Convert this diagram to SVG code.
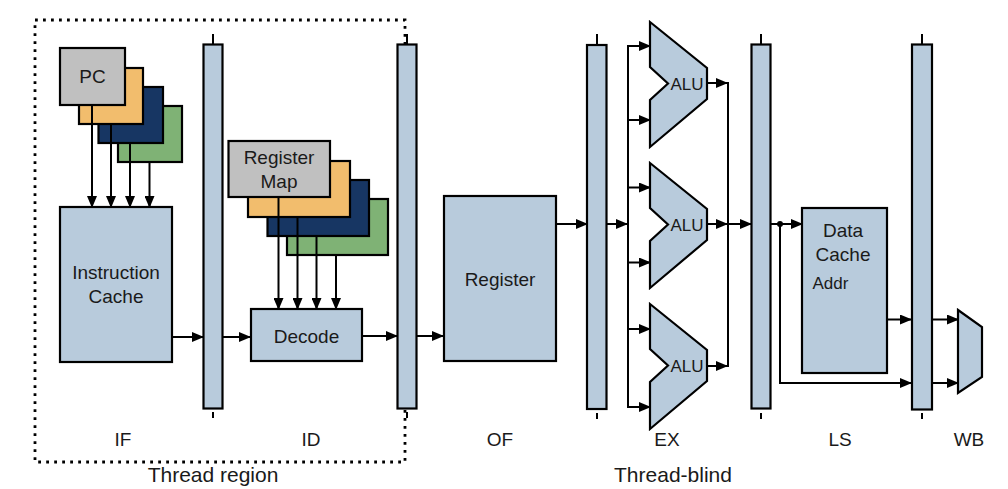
<svg xmlns="http://www.w3.org/2000/svg" width="1008" height="489" viewBox="0 0 1008 489">
<style>
.box{fill:#b8cbdc;stroke:#000;stroke-width:2.2}
.gray{fill:#c0c0c0;stroke:#000;stroke-width:2.2}
.org{fill:#f2bd6d;stroke:#000;stroke-width:2.2}
.dkb{fill:#173663;stroke:#000;stroke-width:2.2}
.grn{fill:#7fb275;stroke:#000;stroke-width:2.2}
.ln{fill:none;stroke:#000;stroke-width:2}
.ar{fill:none;stroke:#000;stroke-width:2;marker-end:url(#ah)}
.tk{stroke:#000;stroke-width:2}
text{font-family:"Liberation Sans",Arial,sans-serif;fill:#1a1a1a;text-anchor:middle}
.t18{font-size:19px}
.t16{font-size:17px}
.t20{font-size:21px}
</style>
<defs>
<marker id="ah" markerUnits="userSpaceOnUse" markerWidth="12" markerHeight="10" refX="11" refY="5" orient="auto">
<path d="M0,0 L12,5 L0,10 z" fill="#000"/>
</marker>
</defs>
<rect width="1008" height="489" fill="#fff"/>

<g id="thread-region">
<rect x="35" y="20" width="370" height="442" fill="none" stroke="#000" stroke-width="2.8" stroke-dasharray="2.8 5.2"/>
</g>

<g id="pc-stack">
<rect class="grn" x="118" y="106" width="64" height="56"/>
<rect class="dkb" x="98.5" y="87" width="64.5" height="56"/>
<rect class="org" x="79" y="68" width="64" height="56"/>
<rect class="gray" x="60" y="48" width="65" height="57"/>
<text class="t18" x="92.5" y="83">PC</text>
</g>

<g id="instruction-cache">
<rect class="box" x="60" y="207" width="112" height="155"/>
<text class="t18" x="116" y="279">Instruction</text>
<text class="t18" x="116" y="303">Cache</text>
</g>

<g id="register-map-stack">
<rect class="grn" x="287" y="199" width="101" height="56"/>
<rect class="dkb" x="267.5" y="180" width="101.5" height="56"/>
<rect class="org" x="248" y="161" width="102" height="56"/>
<rect class="gray" x="228.5" y="141" width="101.5" height="56"/>
<text class="t18" x="279" y="164">Register</text>
<text class="t18" x="279" y="187.5">Map</text>
</g>

<g id="decode">
<rect class="box" x="251" y="309" width="111" height="52"/>
<text class="t18" x="306.5" y="343">Decode</text>
</g>

<g id="register">
<rect class="box" x="444" y="196" width="112" height="165"/>
<text class="t18" x="500" y="286">Register</text>
</g>

<g id="alu1">
<polygon class="box" points="650,22 707,68 707,99 650,147 650,100 668,83.5 650,67"/>
<text class="t16" x="687" y="89.5">ALU</text>
</g>
<g id="alu2">
<polygon class="box" points="650,163 707,209 707,240 650,288 650,241 668,224.5 650,208"/>
<text class="t16" x="687" y="230.5">ALU</text>
</g>
<g id="alu3">
<polygon class="box" points="650,304 707,350 707,381 650,429 650,382 668,365.5 650,349"/>
<text class="t16" x="687" y="371.5">ALU</text>
</g>

<g id="data-cache">
<rect class="box" x="802" y="208" width="85" height="165"/>
<text class="t18" x="843" y="237">Data</text>
<text class="t18" x="843" y="261">Cache</text>
<text class="t16" x="812.5" y="289" style="text-anchor:start">Addr</text>
</g>

<g id="wb-mux">
<polygon class="box" points="958,310 982,327 982,377 958,393"/>
</g>

<g id="latch-if-id">
<line class="tk" x1="213" y1="34" x2="213" y2="44"/>
<rect class="box" x="203.5" y="44.5" width="19" height="364"/>
<line class="tk" x1="213" y1="412" x2="213" y2="418"/>
</g>
<g id="latch-id-of">
<line class="tk" x1="407" y1="34" x2="407" y2="44"/>
<rect class="box" x="397.5" y="44.5" width="19" height="364"/>
<line class="tk" x1="407" y1="412" x2="407" y2="418"/>
</g>
<g id="latch-of-ex">
<line class="tk" x1="597" y1="34" x2="597" y2="44"/>
<rect class="box" x="587" y="45" width="19.5" height="364"/>
<line class="tk" x1="597" y1="413" x2="597" y2="419"/>
</g>
<g id="latch-ex-ls">
<line class="tk" x1="761" y1="34" x2="761" y2="44"/>
<rect class="box" x="751.5" y="44.5" width="19" height="364"/>
<line class="tk" x1="761" y1="413" x2="761" y2="419"/>
</g>
<g id="latch-ls-wb">
<line class="tk" x1="922" y1="34" x2="922" y2="44"/>
<rect class="box" x="912" y="44.5" width="20" height="365"/>
<line class="tk" x1="922" y1="413" x2="922" y2="419"/>
</g>

<g id="connectors">
<line class="ar" x1="92" y1="105" x2="92" y2="207"/>
<line class="ar" x1="111" y1="124" x2="111" y2="207"/>
<line class="ar" x1="130" y1="143" x2="130" y2="207"/>
<line class="ar" x1="149.5" y1="162" x2="149.5" y2="207"/>
<line class="ar" x1="278.5" y1="197" x2="278.5" y2="309"/>
<line class="ar" x1="297.5" y1="217" x2="297.5" y2="309"/>
<line class="ar" x1="316.5" y1="236" x2="316.5" y2="309"/>
<line class="ar" x1="336" y1="255" x2="336" y2="309"/>
<line class="ar" x1="172" y1="337" x2="203" y2="337"/>
<line class="ar" x1="223" y1="337" x2="250" y2="337"/>
<line class="ar" x1="362" y1="336" x2="397" y2="336"/>
<line class="ar" x1="417" y1="336" x2="443" y2="336"/>
<line class="ar" x1="556" y1="224" x2="587" y2="224"/>
<line class="ar" x1="607" y1="224" x2="627" y2="224"/>
<line class="ln" x1="628" y1="46" x2="628" y2="407"/>
<line class="ar" x1="627" y1="46" x2="650" y2="46"/>
<line class="ar" x1="628" y1="120" x2="650" y2="120"/>
<line class="ar" x1="628" y1="187.5" x2="650" y2="187.5"/>
<line class="ar" x1="628" y1="262.5" x2="650" y2="262.5"/>
<line class="ar" x1="628" y1="329" x2="650" y2="329"/>
<line class="ar" x1="627" y1="407" x2="650" y2="407"/>
<line class="ar" x1="707" y1="83" x2="727" y2="83"/>
<line class="ar" x1="707" y1="224" x2="727" y2="224"/>
<line class="ar" x1="707" y1="366" x2="727" y2="366"/>
<line class="ln" x1="728" y1="82" x2="728" y2="367"/>
<line class="ar" x1="728" y1="224" x2="751" y2="224"/>
<line class="ar" x1="771" y1="224" x2="802" y2="224"/>
<circle cx="780" cy="224" r="3" fill="#000"/>
<polyline class="ar" points="780,224 780,383 911,383"/>
<line class="ar" x1="887" y1="319.5" x2="911" y2="319.5"/>
<line class="ar" x1="932" y1="319.5" x2="958" y2="319.5"/>
<line class="ar" x1="932" y1="383" x2="958" y2="383"/>
</g>

<g id="labels">
<text class="t18" x="123" y="446">IF</text>
<text class="t18" x="311" y="446">ID</text>
<text class="t18" x="500" y="446">OF</text>
<text class="t18" x="667" y="446">EX</text>
<text class="t18" x="840" y="446">LS</text>
<text class="t18" x="969" y="446">WB</text>
<text class="t20" x="213" y="482">Thread region</text>
<text class="t20" x="673" y="482">Thread-blind</text>
</g>
</svg>
